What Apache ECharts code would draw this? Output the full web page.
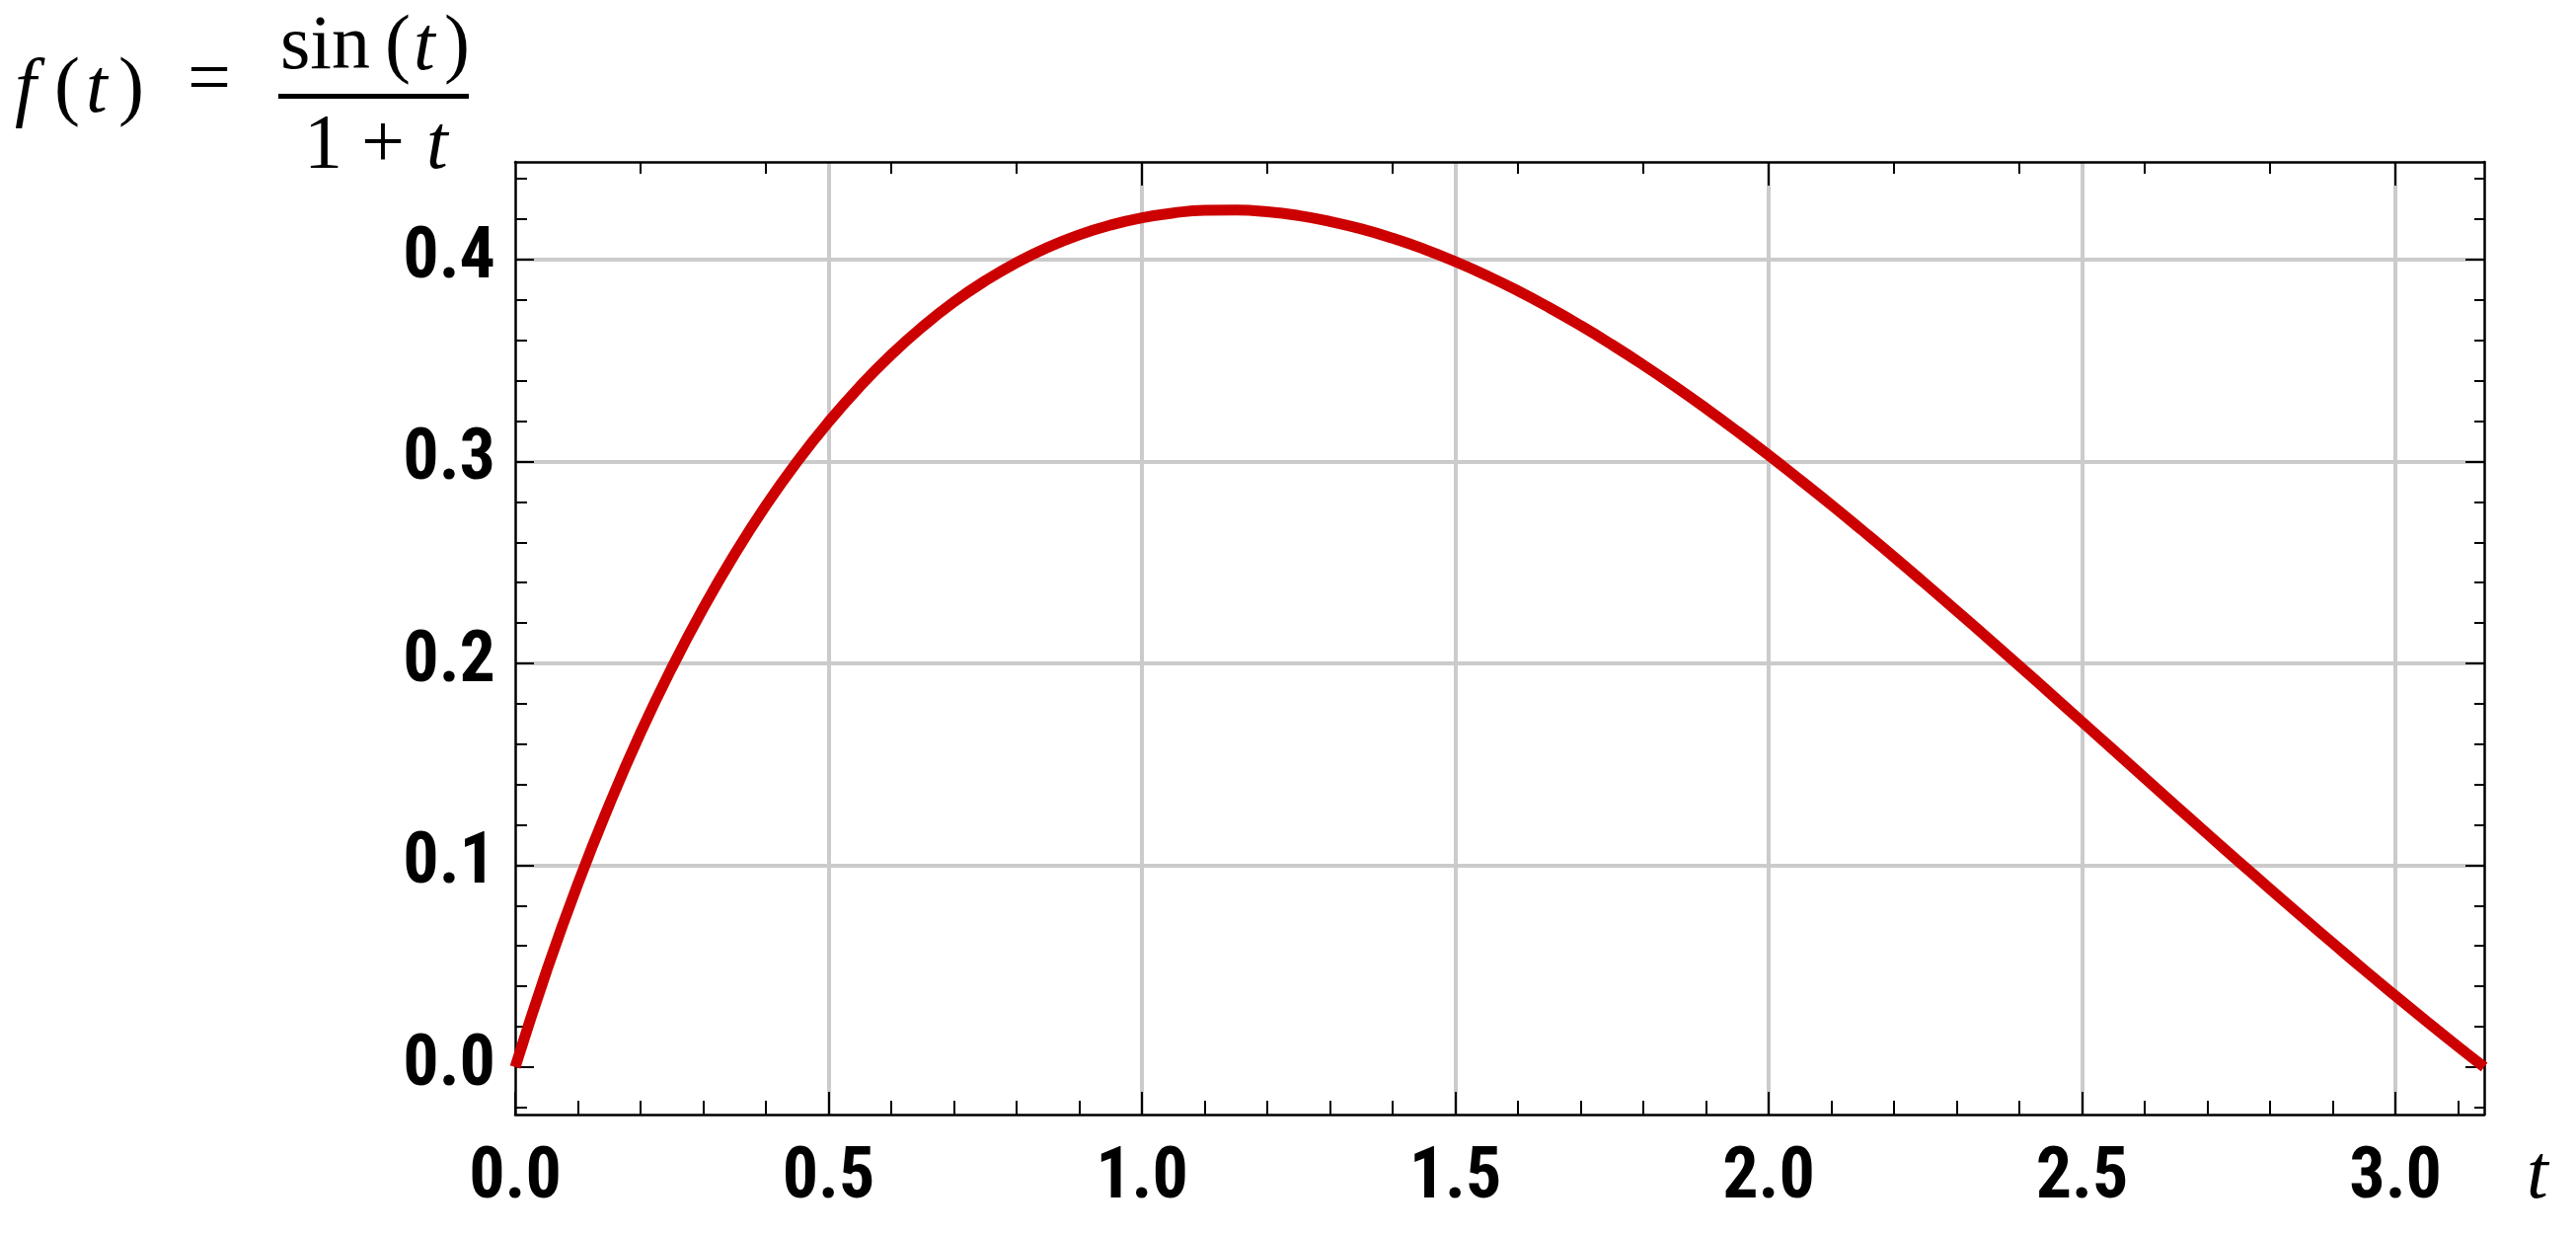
<!DOCTYPE html>
<html>
<head>
<meta charset="utf-8">
<script src="https://cdn.jsdelivr.net/npm/echarts@6/dist/echarts.min.js"></script>
<style>
  html, body { margin: 0; padding: 0; background: #fff; }
  #chart { width: 2610px; height: 1250px; }
</style>
</head>
<body>
<div id="chart"></div>
<script>
// values
var tValues = [0, 0.05, 0.1, 0.15, 0.2, 0.25, 0.3, 0.35, 0.4, 0.45, 0.5, 0.55, 0.6, 0.65, 0.7,
  0.75, 0.8, 0.85, 0.9, 0.95, 1.0, 1.05, 1.1, 1.15, 1.2, 1.25, 1.3, 1.35, 1.4, 1.45, 1.5,
  1.55, 1.6, 1.65, 1.7, 1.75, 1.8, 1.85, 1.9, 1.95, 2.0, 2.05, 2.1, 2.15, 2.2, 2.25, 2.3,
  2.35, 2.4, 2.45, 2.5, 2.55, 2.6, 2.65, 2.7, 2.75, 2.8, 2.85, 2.9, 2.95, 3.0, 3.05, 3.1, 3.1416];
var fValues = [0, 0.0476, 0.0908, 0.1299, 0.1656, 0.1979, 0.2273, 0.2540, 0.2782, 0.3000,
  0.3196, 0.3372, 0.3529, 0.3668, 0.3790, 0.3895, 0.3985, 0.4061, 0.4123, 0.4171, 0.4207,
  0.4231, 0.4244, 0.4245, 0.4237, 0.4218, 0.4189, 0.4152, 0.4106, 0.4052, 0.3990, 0.3921,
  0.3845, 0.3762, 0.3673, 0.3578, 0.3478, 0.3373, 0.3263, 0.3149, 0.3031, 0.2909, 0.2785,
  0.2657, 0.2527, 0.2394, 0.2260, 0.2124, 0.1987, 0.1849, 0.1710, 0.1571, 0.1432, 0.1293,
  0.1155, 0.1018, 0.0882, 0.0747, 0.0614, 0.0482, 0.0353, 0.0226, 0.0101, 0];

// tick positions
var xMajor = [0, 0.5, 1.0, 1.5, 2.0, 2.5, 3.0];
var xMinor = [0.1, 0.2, 0.3, 0.4, 0.6, 0.7, 0.8, 0.9, 1.1, 1.2, 1.3, 1.4, 1.6, 1.7, 1.8, 1.9,
  2.1, 2.2, 2.3, 2.4, 2.6, 2.7, 2.8, 2.9, 3.1];
var xTopMajor = [1, 2, 3];
var xTopMinor = [0.2, 0.4, 0.6, 0.8, 1.2, 1.4, 1.6, 1.8, 2.2, 2.4, 2.6, 2.8];
var yMajor = [0, 0.1, 0.2, 0.3, 0.4];
var yMinor = [-0.02, 0.02, 0.04, 0.06, 0.08, 0.12, 0.14, 0.16, 0.18, 0.22, 0.24, 0.26, 0.28,
  0.32, 0.34, 0.36, 0.38, 0.42, 0.44];

var xMin = 0, xMax = 3.14159;
var yMin = -0.0235, yMax = 0.4484;

var chart = echarts.init(document.getElementById('chart'));

var labelFont = {
  fontFamily: '"Roboto Condensed", "Open Sans Condensed", "DejaVu Sans Condensed", sans-serif',
  fontWeight: 'bold condensed',
  fontSize: 72,
  color: '#000'
};
var frameLine = { show: true, onZero: false, lineStyle: { color: '#000', width: 2.5 } };
var gridGray = '#cbcbcb';

function fmt(v) { return v.toFixed(1); }

function xAx(pos, ticks, len, opts) {
  return Object.assign({
    type: 'value', position: pos, min: xMin, max: xMax,
    axisLine: { show: false, onZero: false },
    axisTick: { show: true, inside: true, length: len, customValues: ticks,
      lineStyle: { color: '#000', width: 2 } },
    axisLabel: { show: false },
    splitLine: { show: false }
  }, opts || {});
}
function yAx(pos, ticks, len, opts) {
  return Object.assign({
    type: 'value', position: pos, min: yMin, max: yMax,
    axisLine: { show: false, onZero: false },
    axisTick: { show: true, inside: true, length: len, customValues: ticks,
      lineStyle: { color: '#000', width: 2 } },
    axisLabel: { show: false },
    splitLine: { show: false }
  }, opts || {});
}

var serif = '"Liberation Serif", "Times New Roman", serif';
function mathText(str, x, y, italic, align) {
  return {
    type: 'text', x: x, y: y, silent: true,
    style: {
      text: str, fill: '#000', font: (italic ? 'italic ' : '') + '78px ' + serif,
      textAlign: align || 'left', textVerticalAlign: 'middle'
    }
  };
}

var option = {
  backgroundColor: '#fff',
  animation: false,
  grid: { left: 522, right: 93, top: 164, bottom: 121 },
  xAxis: [
    xAx('bottom', xMajor, 23, {
      axisLine: frameLine,
      axisLabel: Object.assign({ show: true, customValues: xMajor, margin: 30,
        formatter: fmt }, labelFont),
      splitLine: { show: true, lineStyle: { color: ['transparent', gridGray, gridGray,
        gridGray, gridGray, gridGray, gridGray], width: 4 } }
    }),
    xAx('bottom', xMinor, 14),
    xAx('top', xTopMajor, 24, { axisLine: frameLine }),
    xAx('top', xTopMinor, 12)
  ],
  yAxis: [
    yAx('left', yMajor, 19, {
      axisLine: frameLine,
      axisLabel: Object.assign({ show: true, customValues: yMajor, margin: 20,
        formatter: fmt }, labelFont),
      splitLine: { show: true, lineStyle: { color: ['transparent', gridGray, gridGray,
        gridGray, gridGray], width: 4 } }
    }),
    yAx('left', yMinor, 12),
    yAx('right', yMajor, 19, { axisLine: frameLine }),
    yAx('right', yMinor, 10)
  ],
  graphic: [
    mathText('f', 15, 92, true),
    mathText('(', 55, 92, false),
    mathText('t', 87, 92, true),
    mathText(')', 120, 92, false),
    mathText('=', 212, 84, false, 'center'),
    mathText('sin', 284, 49, false),
    mathText('(', 390, 49, false),
    mathText('t', 419, 49, true),
    mathText(')', 450, 49, false),
    { type: 'rect', silent: true, shape: { x: 282, y: 95, width: 193, height: 5 },
      style: { fill: '#000' } },
    mathText('1', 308, 149, false),
    mathText('+', 388, 149, false, 'center'),
    mathText('t', 432, 149, true),
    mathText('t', 2560, 1192, true)
  ],
  series: [{
    type: 'line',
    xAxisIndex: 0,
    yAxisIndex: 0,
    data: tValues.map(function (t, i) { return [t, fValues[i]]; }),
    smooth: true,
    showSymbol: false,
    lineStyle: { color: '#cc0000', width: 11 },
    z: 5
  }]
};

chart.setOption(option);
</script>
</body>
</html>
